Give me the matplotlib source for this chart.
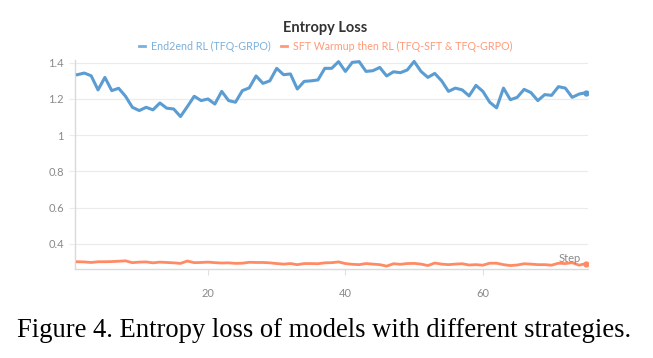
import matplotlib
matplotlib.use("Agg")
import matplotlib.pyplot as plt
import numpy as np

steps = list(range(1, 76))
end2end_rl = [
    1.334, 1.343, 1.328, 1.250, 1.319, 1.246, 1.259, 1.215, 1.154, 1.136,
    1.154, 1.140, 1.178, 1.149, 1.145, 1.103, 1.158, 1.215, 1.191, 1.200,
    1.172, 1.242, 1.191, 1.182, 1.246, 1.261, 1.327, 1.286, 1.300, 1.369,
    1.334, 1.338, 1.255, 1.297, 1.300, 1.305, 1.369, 1.369, 1.406, 1.352,
    1.402, 1.406, 1.352, 1.356, 1.374, 1.327, 1.350, 1.345, 1.360, 1.407,
    1.352, 1.319, 1.341, 1.300, 1.242, 1.260, 1.250, 1.217, 1.275, 1.242,
    1.182, 1.151, 1.260, 1.196, 1.209, 1.253, 1.235, 1.191, 1.224, 1.220,
    1.268, 1.260, 1.209, 1.227, 1.235,
]
sft_then_rl = [
    0.302, 0.301, 0.298, 0.302, 0.302, 0.303, 0.305, 0.307, 0.297, 0.300,
    0.301, 0.296, 0.300, 0.298, 0.296, 0.293, 0.306, 0.297, 0.298, 0.300,
    0.297, 0.295, 0.296, 0.293, 0.294, 0.299, 0.298, 0.298, 0.296, 0.292,
    0.289, 0.292, 0.286, 0.292, 0.292, 0.291, 0.296, 0.297, 0.301, 0.292,
    0.288, 0.286, 0.292, 0.289, 0.286, 0.278, 0.291, 0.288, 0.292, 0.293,
    0.289, 0.281, 0.295, 0.289, 0.286, 0.289, 0.291, 0.284, 0.286, 0.283,
    0.294, 0.294, 0.286, 0.281, 0.284, 0.291, 0.289, 0.286, 0.286, 0.283,
    0.294, 0.292, 0.297, 0.283, 0.292,
]
series_labels = ["End2end RL (TFQ-GRPO)", "SFT Warmup then RL (TFQ-SFT & TFQ-GRPO)"]
title = "Entropy Loss"
caption = "Figure 4. Entropy loss of models with different strategies."
y_ticks = [0.4, 0.6, 0.8, 1.0, 1.2, 1.4]
y_tick_labels = ["0.4", "0.6", "0.8", "1", "1.2", "1.4"]
x_ticks = [20, 40, 60]

blue = "#5B9DD2"
orange = "#FF8A63"
blue_txt = "#7AB0DC"
orange_txt = "#FF9A78"
grid_c = "#EBEBEB"
tick_c = "#8A8A8A"
ui_font = ["Lato", "DejaVu Sans"]

W, H = 653, 358
fig = plt.figure(figsize=(W / 100, H / 100), dpi=100)
left, right, top, bottom = 75, 588, 60, 269
ax = fig.add_axes([left / W, 1 - bottom / H, (right - left) / W, (bottom - top) / H])

l1, = ax.plot(steps, end2end_rl, color=blue, lw=2.2, solid_joinstyle="round", zorder=3)
l2, = ax.plot(steps, sft_then_rl, color=orange, lw=2.0, solid_joinstyle="round", zorder=3)
ax.plot(steps[-1:], end2end_rl[-1:], "o", color=blue, ms=3.5, zorder=4)
ax.plot(steps[-1:], sft_then_rl[-1:], "o", color=orange, ms=3.5, zorder=4)

ax.set_xlim(0.65, 75.3)
ax.set_ylim(0.262, 1.415)
ax.set_yticks(y_ticks)
ax.set_yticklabels(y_tick_labels)
ax.set_xticks(x_ticks)
ax.grid(axis="y", color=grid_c, lw=0.8)
ax.set_axisbelow(True)
for s in ["top", "right"]:
    ax.spines[s].set_visible(False)
for s in ["left", "bottom"]:
    ax.spines[s].set_color("#DADADA")
    ax.spines[s].set_linewidth(1.0)
ax.tick_params(axis="both", colors=tick_c, labelsize=8, length=4, width=0.8)
ax.tick_params(axis="y", color=grid_c, pad=4)
ax.tick_params(axis="x", color="#E0E0E0", pad=10)
for lab in ax.get_xticklabels() + ax.get_yticklabels():
    lab.set_fontfamily(ui_font)

fig.text(569.5 / W, 1 - 258 / H, "Step", fontsize=8, color=tick_c,
         family=ui_font, ha="center", va="center")

fig.text(325 / W, 1 - 28 / H, title, fontsize=10.5, fontweight="bold", color="#333333",
         family=ui_font, ha="center", va="center")

leg = fig.legend([l1, l2], series_labels, loc="center", bbox_to_anchor=(326 / W, 1 - 46 / H),
                 ncol=2, frameon=False, handlelength=0.55, handletextpad=0.55,
                 columnspacing=1.0, prop={"family": ui_font, "size": 7.7})
for txt, c in zip(leg.get_texts(), [blue_txt, orange_txt]):
    txt.set_color(c)
for h, c in zip(leg.get_lines(), [blue_txt, orange_txt]):
    h.set_linewidth(2.0)
    h.set_color(c)

fig.text(324 / W, 1 - 337 / H, caption, fontsize=19.2, family=["Liberation Serif", "DejaVu Serif"],
         color="black", ha="center", va="baseline")

fig.savefig("out.png", dpi=100, facecolor="white")
